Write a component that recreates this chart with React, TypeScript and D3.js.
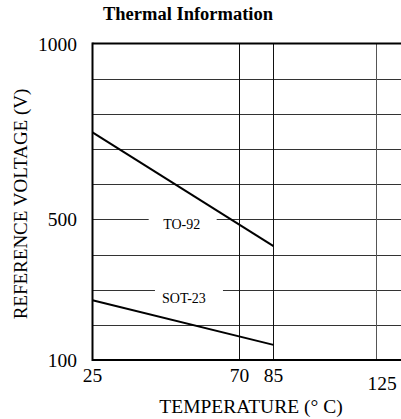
import React from "react";
import * as d3 from "d3";

const title = "Thermal Information";
const xLabel = "TEMPERATURE (° C)";
const yLabel = "REFERENCE VOLTAGE (V)";
const xTicks = [25, 70, 85, 125];
const yTicks = [100, 500, 1000];
const yGrid = [200, 300, 400, 500, 600, 700, 800, 900];
const temps = [25, 85];
const to92 = [747, 424];
const sot23 = [270, 143];
const seriesNames = ["TO-92", "SOT-23"];
const labelTemps = [52.3, 53];
const labelGridValues = [500, 300];

const W = 401;
const H = 419;
const font = "'Liberation Serif', 'Times New Roman', serif";

export default function App() {
  const x = d3.scaleLinear().domain([25, 70, 85, 125]).range([92.5, 239.5, 273.5, 376.5]);
  const y = d3.scaleLinear().domain([100, 1000]).range([360, 43.5]);
  const line = d3
    .line<[number, number]>()
    .x((d) => x(d[0]))
    .y((d) => y(d[1]));
  const series = [to92, sot23].map((vals) => temps.map((t, i) => [t, vals[i]] as [number, number]));
  const left = x(25);
  return (
    <div style={{ position: "absolute", left: 0, top: 0 }}>
      <svg width={W} height={H} style={{ display: "block", fontFamily: font }}>
        <rect width={W} height={H} fill="#fff" />
        <text x={188} y={19.5} textAnchor="middle" fontWeight="bold" fontSize={18.5}>
          {title}
        </text>
        {yGrid.map((v) => (
          <line key={v} x1={left} x2={W} y1={Math.round(y(v)) + 0.5} y2={Math.round(y(v)) + 0.5} stroke="#333" strokeWidth={1} />
        ))}
        {xTicks.slice(1).map((t, i) => (
          <line key={t} x1={x(t)} x2={x(t)} y1={y(1000)} y2={y(100)} stroke={i === 2 ? "#555" : "#111"} strokeWidth={1} />
        ))}
        {seriesNames.map((n, i) => {
          const cx = x(labelTemps[i]);
          const cy = Math.round(y(labelGridValues[i])) + 0.5;
          const gapShift = i === 0 ? 1 : 5;
          return (
            <g key={n}>
              <rect x={cx - 34 + gapShift} y={cy - 3} width={68} height={6} fill="#fff" />
              <text x={cx} y={cy + (i === 0 ? 9.5 : 12.5)} textAnchor="middle" fontSize={14}>
                {n}
              </text>
            </g>
          );
        })}
        {series.map((s, i) => (
          <path key={i} d={line(s) || ""} fill="none" stroke="#000" strokeWidth={2} />
        ))}
        <line x1={left} x2={W} y1={y(1000)} y2={y(1000)} stroke="#000" strokeWidth={2} />
        <line x1={left} x2={W} y1={y(100)} y2={y(100)} stroke="#000" strokeWidth={2} />
        <line x1={left} x2={left} y1={y(1000) - 1} y2={y(100) + 1} stroke="#000" strokeWidth={2} />
        {yTicks.map((v) => (
          <text key={v} x={77} y={y(v) + 7} textAnchor="end" fontSize={19.5}>
            {v}
          </text>
        ))}
        {xTicks.map((t, i) => (
          <text key={t} x={x(t) + (i === 3 ? 5.5 : 0)} y={382 + (i === 3 ? 8 : 0)} textAnchor="middle" fontSize={19.5}>
            {t}
          </text>
        ))}
        <text x={251} y={413} textAnchor="middle" fontSize={19.5}>
          {xLabel}
        </text>
        <text transform={`translate(27,204) rotate(-90)`} textAnchor="middle" fontSize={19}>
          {yLabel}
        </text>
      </svg>
    </div>
  );
}
